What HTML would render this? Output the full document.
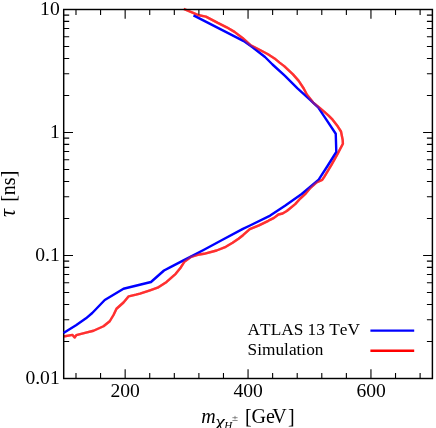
<!DOCTYPE html>
<html><head><meta charset="utf-8"><style>
html,body{margin:0;padding:0;background:#fff;}
svg{display:block;will-change:transform;}
text{font-family:"Liberation Serif",serif;fill:#000;font-kerning:none;}
</style></head><body>
<svg width="436" height="428" viewBox="0 0 436 428">
<rect width="436" height="428" fill="#fff"/>
<polyline points="183.70,8.80 198.90,15.30 205.90,16.60 217.80,22.90 226.70,27.30 234.50,31.90 242.50,38.00 250.30,45.00 260.00,50.00 268.00,54.30 274.50,58.40 279.60,62.60 284.20,66.10 293.00,74.40 298.70,80.90 303.70,88.50 307.00,94.80 313.20,102.60 319.70,108.00 324.40,111.90 328.60,115.60 332.60,119.70 337.70,126.30 341.00,131.50 342.70,140.00 342.90,143.80 337.60,153.90 331.30,165.20 324.40,176.60 322.20,179.90 316.60,182.30 310.50,187.80 305.70,193.60 300.30,198.50 295.20,204.10 286.80,211.00 282.60,213.50 278.40,214.50 274.00,217.90 270.00,219.90 268.30,220.80 259.00,225.40 249.80,229.20 243.00,235.20 238.50,238.80 232.60,242.80 225.80,246.80 216.60,250.50 204.00,253.80 197.70,254.80 191.20,256.80 184.30,261.80 180.80,267.40 175.70,273.80 166.60,281.90 157.60,287.70 150.00,290.30 140.00,293.60 136.00,294.70 128.70,296.30 123.50,302.50 116.50,308.75 113.50,315.00 109.75,321.25 103.50,326.25 93.50,330.75 86.00,332.70 76.30,335.20 74.60,337.40 72.50,334.90 63.50,336.50" fill="none" stroke="#ff3030" stroke-width="2.4" stroke-linejoin="round" stroke-linecap="butt"/>
<path d="M75.99,378.5v-5.5M75.99,9.5v5.5M100.57,378.5v-5.5M100.57,9.5v5.5M125.15,378.5v-9.3M125.15,9.5v9.3M149.73,378.5v-5.5M149.73,9.5v5.5M174.31,378.5v-5.5M174.31,9.5v5.5M198.89,378.5v-5.5M198.89,9.5v5.5M223.47,378.5v-5.5M223.47,9.5v5.5M248.05,378.5v-9.3M248.05,9.5v9.3M272.63,378.5v-5.5M272.63,9.5v5.5M297.21,378.5v-5.5M297.21,9.5v5.5M321.79,378.5v-5.5M321.79,9.5v5.5M346.37,378.5v-5.5M346.37,9.5v5.5M370.95,378.5v-9.3M370.95,9.5v9.3M395.53,378.5v-5.5M395.53,9.5v5.5M420.11,378.5v-5.5M420.11,9.5v5.5M63.7,378.50h9.3M432.4,378.50h-9.3M63.7,341.47h5.5M432.4,341.47h-5.5M63.7,319.81h5.5M432.4,319.81h-5.5M63.7,304.45h5.5M432.4,304.45h-5.5M63.7,292.53h5.5M432.4,292.53h-5.5M63.7,282.79h5.5M432.4,282.79h-5.5M63.7,274.55h5.5M432.4,274.55h-5.5M63.7,267.42h5.5M432.4,267.42h-5.5M63.7,261.13h5.5M432.4,261.13h-5.5M63.7,255.50h9.3M432.4,255.50h-9.3M63.7,218.47h5.5M432.4,218.47h-5.5M63.7,196.81h5.5M432.4,196.81h-5.5M63.7,181.45h5.5M432.4,181.45h-5.5M63.7,169.53h5.5M432.4,169.53h-5.5M63.7,159.79h5.5M432.4,159.79h-5.5M63.7,151.55h5.5M432.4,151.55h-5.5M63.7,144.42h5.5M432.4,144.42h-5.5M63.7,138.13h5.5M432.4,138.13h-5.5M63.7,132.50h9.3M432.4,132.50h-9.3M63.7,95.47h5.5M432.4,95.47h-5.5M63.7,73.81h5.5M432.4,73.81h-5.5M63.7,58.45h5.5M432.4,58.45h-5.5M63.7,46.53h5.5M432.4,46.53h-5.5M63.7,36.79h5.5M432.4,36.79h-5.5M63.7,28.55h5.5M432.4,28.55h-5.5M63.7,21.42h5.5M432.4,21.42h-5.5M63.7,15.13h5.5M432.4,15.13h-5.5M63.7,9.50h9.3M432.4,9.50h-9.3" stroke="#000" stroke-width="1.1" fill="none"/>
<rect x="63.7" y="9.5" width="368.7" height="369.0" fill="none" stroke="#000" stroke-width="1.45"/>
<polyline points="193.50,15.40 234.00,36.10 243.75,41.10 252.50,47.30 265.00,57.00 272.50,64.50 285.00,75.90 297.50,88.30 310.15,99.85 318.15,107.35 325.00,117.70 335.75,133.75 336.30,152.00 327.50,166.00 318.70,179.70 301.70,194.00 285.00,205.80 270.20,215.60 250.00,225.50 242.90,228.90 221.60,240.30 204.00,249.70 182.50,260.90 170.00,267.40 164.00,270.50 151.00,282.00 123.50,288.75 104.75,300.00 92.25,313.00 86.00,318.30 76.00,325.20 63.50,333.00" fill="none" stroke="#0000ff" stroke-width="2.4" stroke-linejoin="round" stroke-linecap="butt"/>
<clipPath id="c"><rect x="65" y="10.6" width="366" height="367"/></clipPath>
<polyline clip-path="url(#c)" points="183.70,8.80 198.90,15.30 205.90,16.60 217.80,22.90 226.70,27.30 234.50,31.90 242.50,38.00 250.30,45.00 260.00,50.00 268.00,54.30 274.50,58.40 279.60,62.60 284.20,66.10 293.00,74.40 298.70,80.90 303.70,88.50 307.00,94.80 313.20,102.60 319.70,108.00 324.40,111.90 328.60,115.60 332.60,119.70 337.70,126.30 341.00,131.50 342.70,140.00 342.90,143.80 337.60,153.90 331.30,165.20 324.40,176.60 322.20,179.90 316.60,182.30 310.50,187.80 305.70,193.60 300.30,198.50 295.20,204.10 286.80,211.00 282.60,213.50 278.40,214.50 274.00,217.90 270.00,219.90 268.30,220.80 259.00,225.40 249.80,229.20 243.00,235.20 238.50,238.80 232.60,242.80 225.80,246.80 216.60,250.50 204.00,253.80 197.70,254.80 191.20,256.80 184.30,261.80 180.80,267.40 175.70,273.80 166.60,281.90 157.60,287.70 150.00,290.30 140.00,293.60 136.00,294.70 128.70,296.30 123.50,302.50 116.50,308.75 113.50,315.00 109.75,321.25 103.50,326.25 93.50,330.75 86.00,332.70 76.30,335.20 74.60,337.40 72.50,334.90 63.50,336.50" fill="none" stroke="#ff3030" stroke-opacity="0.45" stroke-width="2.4" stroke-linejoin="round" stroke-linecap="butt"/>
<g font-size="20px">
<g font-size="19.6px"><text x="59.7" y="15.2" text-anchor="end">10</text>
<text x="59.7" y="138.2" text-anchor="end">1</text>
<text x="59.7" y="261.2" text-anchor="end">0.1</text>
<text x="59.7" y="384.2" text-anchor="end">0.01</text>
<text x="125.2" y="396.6" text-anchor="middle">200</text>
<text x="248.2" y="396.6" text-anchor="middle">400</text>
<text x="371.2" y="396.6" text-anchor="middle">600</text></g>
<text x="201.3" y="423.3" font-style="italic">m</text>
<text transform="translate(215.5,426.8) scale(1.24,1)" font-style="italic" font-size="17px">χ</text>
<text x="224.2" y="429" font-style="italic" font-size="11px">H</text>
<path d="M232.4,417.7H237.6M235,415.9V419.4M232.4,420.5H237.6" stroke="#666" stroke-width="0.75" fill="none"/>
<text x="244.9" y="423.3">[Ge</text><text x="272.3" y="423.3">V</text><text x="288.1" y="423.3">]</text>
<text transform="translate(15,216.9) rotate(-90)" font-style="italic" font-size="22.5px">τ</text><text transform="translate(15,201.8) rotate(-90)">[ns]</text>
</g>
<g font-size="17.3px">
<text x="247.6" y="335.2">ATLAS 13 TeV</text>
<text x="247.6" y="354.8">Simulation</text>
</g>
<path d="M370.4,330.6H414.2" stroke="#0000ff" stroke-width="2.4"/>
<path d="M370.4,350.7H414.2" stroke="#ff0000" stroke-width="2.4"/>
</svg>
</body></html>
